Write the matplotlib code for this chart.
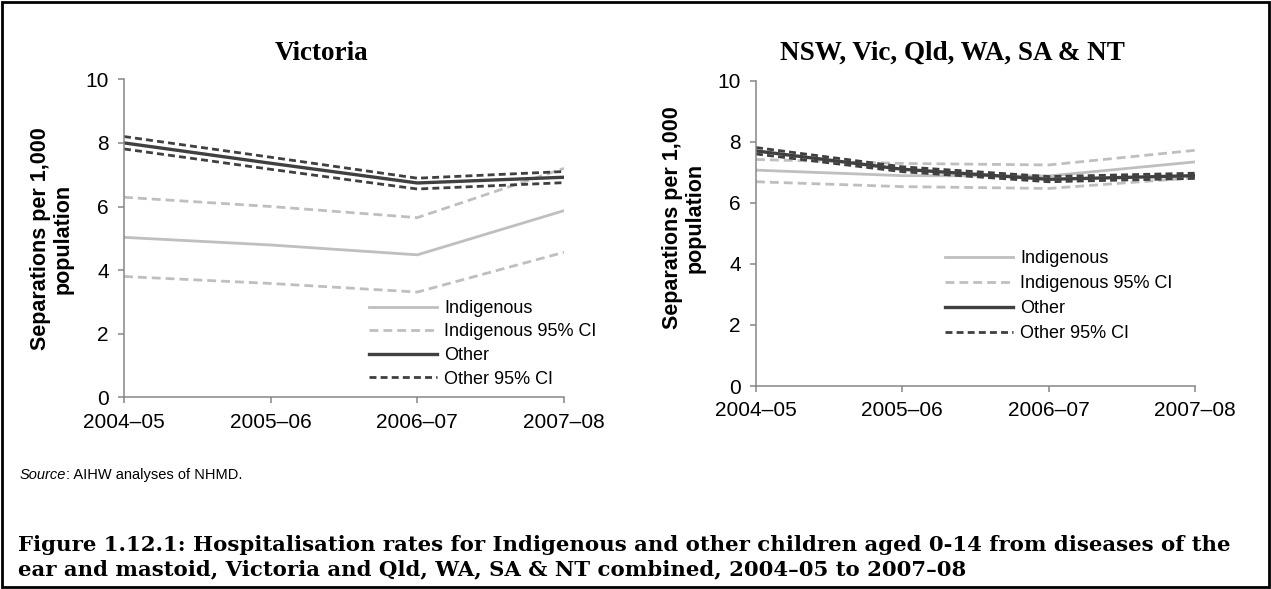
import matplotlib
matplotlib.use("Agg")
import matplotlib.pyplot as plt
from matplotlib.patches import Rectangle

years = ["2004–05", "2005–06", "2006–07", "2007–08"]

# Victoria
vic_indig = [5.03, 4.79, 4.48, 5.87]
vic_indig_hi = [6.29, 6.0, 5.65, 7.2]
vic_indig_lo = [3.8, 3.58, 3.31, 4.56]
vic_other = [8.0, 7.36, 6.74, 6.92]
vic_other_hi = [8.2, 7.55, 6.89, 7.1]
vic_other_lo = [7.81, 7.17, 6.55, 6.75]

# NSW, Vic, Qld, WA, SA & NT
all_indig = [7.07, 6.89, 6.88, 7.34]
all_indig_hi = [7.42, 7.29, 7.24, 7.72]
all_indig_lo = [6.69, 6.53, 6.47, 6.82]
all_other = [7.7, 7.1, 6.77, 6.89]
all_other_hi = [7.81, 7.18, 6.86, 6.97]
all_other_lo = [7.6, 7.02, 6.69, 6.8]

caption = ["Figure 1.12.1: Hospitalisation rates for Indigenous and other children aged 0-14 "
           "from diseases of the",
           "ear and mastoid, Victoria and Qld, WA, SA & NT combined, 2004–05 to 2007–08"]

light = "#bfbfbf"
dark = "#404040"
axcol = "#868686"
sans = "Liberation Sans"
serif = "Liberation Serif"

W, H = 1271, 589
fig = plt.figure(figsize=(W / 100, H / 100), dpi=100)


def px(x, y):
    return x / W, 1 - y / H


def draw_panel(rect, indig, ihi, ilo, other, ohi, olo):
    ax = fig.add_axes(rect)
    x = range(len(years))
    ax.plot(x, indig, color=light, lw=2, label="Indigenous")
    ax.plot(x, ihi, color=light, lw=2, ls=(0, (3.2, 1.8)), label="Indigenous 95% CI")
    ax.plot(x, ilo, color=light, lw=2, ls=(0, (3.2, 1.8)))
    ax.plot(x, other, color=dark, lw=2.4, label="Other")
    ax.plot(x, ohi, color=dark, lw=2, ls=(0, (2.5, 1.5)), label="Other 95% CI")
    ax.plot(x, olo, color=dark, lw=2, ls=(0, (2.5, 1.5)))
    ax.set_xlim(0, 3)
    ax.set_ylim(0, 10)
    ax.set_xticks(list(x))
    ax.set_xticklabels(years, fontfamily=sans, fontsize=15)
    ax.set_yticks([0, 2, 4, 6, 8, 10])
    ax.set_yticklabels(["0", "2", "4", "6", "8", "10"], fontfamily=sans, fontsize=15)
    for s in ["top", "right"]:
        ax.spines[s].set_visible(False)
    for s in ["left", "bottom"]:
        ax.spines[s].set_color(axcol)
        ax.spines[s].set_linewidth(1.1)
    ax.tick_params(axis="x", length=4, color=axcol, width=1.1, pad=7)
    ax.tick_params(axis="y", length=4, color=axcol, width=1.1, pad=7)
    return ax


ax1 = draw_panel([124 / W, 1 - 397.3 / H, 440 / W, 318 / H],
                 vic_indig, vic_indig_hi, vic_indig_lo, vic_other, vic_other_hi, vic_other_lo)
ax2 = draw_panel([756 / W, 1 - 386 / H, 439 / W, 305.3 / H],
                 all_indig, all_indig_hi, all_indig_lo, all_other, all_other_hi, all_other_lo)

for ax, anchor, sp in [(ax1, px(369, 300), 0.36), (ax2, px(945, 250), 0.45)]:
    ax.legend(loc="upper left", bbox_to_anchor=anchor, bbox_transform=fig.transFigure,
              frameon=False, prop={"family": sans, "size": 13}, handlelength=3.75,
              handletextpad=0.4, labelspacing=sp, borderpad=0, borderaxespad=0)

# panel titles
fig.text(*px(322, 60), "Victoria", ha="center", va="baseline",
         fontfamily=serif, fontweight="bold", fontsize=19.5)
fig.text(*px(952, 60), "NSW, Vic, Qld, WA, SA & NT", ha="center", va="baseline",
         fontfamily=serif, fontweight="bold", fontsize=19.5)

# y labels
for xp, yp in [(52, 239), (684, 218)]:
    fig.text(*px(xp, yp), "Separations per 1,000\npopulation", rotation=90,
             ha="center", va="center", multialignment="center",
             fontfamily=sans, fontweight="bold", fontsize=15.5, linespacing=1.1)

# source
t = fig.text(*px(20, 475), "Source", fontstyle="italic", fontfamily=sans,
             fontsize=10.5, va="center", ha="left")
fig.add_artist(plt.Annotation(": AIHW analyses of NHMD.", xy=(1, 0), xycoords=t,
                              va="bottom", ha="left", fontfamily=sans, fontsize=10.5))

# caption, sized so the first line spans the same width as the original
cap1 = fig.text(*px(18, 551), caption[0], ha="left", va="baseline",
                fontfamily="DejaVu Serif", fontweight="bold", fontsize=16)
cap2 = fig.text(*px(18, 575), caption[1], ha="left", va="baseline",
                fontfamily="DejaVu Serif", fontweight="bold", fontsize=16)
r = fig.canvas.get_renderer()
size = 16 * 1207 / cap1.get_window_extent(r).width
cap1.set_fontsize(size)
cap2.set_fontsize(size)

# outer frame
fig.add_artist(Rectangle((2 / W, 2 / H), 1 - 4 / W, 1 - 4 / H, transform=fig.transFigure,
                         fill=False, edgecolor="black", linewidth=2))

fig.savefig("out.png", dpi=100)
